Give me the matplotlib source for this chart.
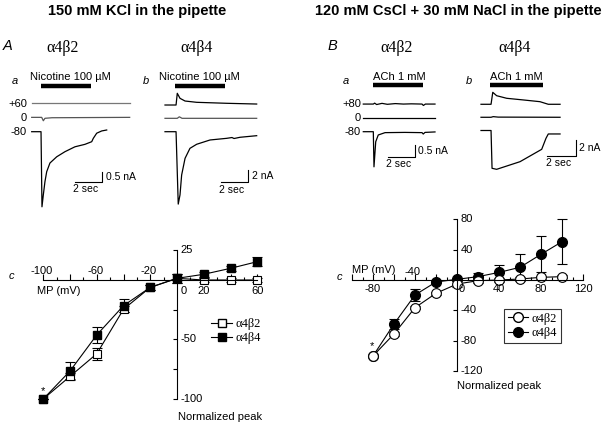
import numpy as np
import matplotlib.pyplot as plt
from matplotlib.lines import Line2D

plt.rcParams['font.family'] = ['Liberation Sans', 'DejaVu Sans']
SERIF = ['Liberation Serif', 'DejaVu Serif']

W, H = 605, 423

# ---------------- current traces (t in s, I in nA, relative to holding level) ----------------
# A-a  a4b2, nicotine 100 uM (150 mM KCl)
Aa_t60 = [0, 7.25]
Aa_i60 = [0, 0]
Aa_t0 = [0, 0.74, 0.86, 0.98, 1.5, 7.25]
Aa_i0 = [0, 0, -0.18, -0.05, -0.02, 0]
Aa_t80 = [0, 0.69, 0.76, 0.86, 0.98, 1.11, 1.35, 1.85, 2.46, 3.20, 3.94, 4.44, 4.56, 4.81, 5.18, 5.55]
Aa_i80 = [0, 0, -3.98, -3.35, -2.65, -2.12, -1.66, -1.33, -1.06, -0.80, -0.67, -0.53, -0.35, -0.08, 0.04, 0.09]

# A-b  a4b4, nicotine 100 uM
Ab_t60 = [0, 0.81, 0.90, 1.10, 1.47, 2.32, 4.52, 6.72]
Ab_i60 = [0, 0, 1.91, 1.09, 0.65, 0.44, 0.28, 0.16]
Ab_t0 = [0, 0.90, 1.05, 1.25, 6.72]
Ab_i0 = [0, 0, 0.25, 0, 0]
Ab_t80 = [0, 0.81, 0.97, 1.10, 1.22, 1.47, 1.83, 2.32, 3.30, 4.52, 4.91, 5.06, 5.50, 6.72]
Ab_i80 = [0, 0, -11.8, -10.3, -7.06, -4.34, -2.71, -2.05, -1.35, -1.08, -0.95, -1.11, -0.91, -0.65]

# B-a  a4b2, ACh 1 mM (120 mM CsCl + 30 mM NaCl)
Ba_t80p = [0, 0.75, 0.85, 1.0, 1.4, 1.8, 2.4, 3.0, 3.6, 4.4, 4.5, 4.65, 5.37]
Ba_i80p = [0, 0, 0.04, -0.02, 0.03, -0.01, 0.02, 0, 0.01, 0, -0.06, 0, 0]
Ba_t0 = [0, 5.37]
Ba_i0 = [0, 0]
Ba_t80 = [0, 0.75, 0.80, 0.93, 1.12, 1.63, 3.12, 4.40, 4.49, 4.62, 5.37]
Ba_i80 = [0, 0, -1.5, -0.43, -0.14, -0.04, -0.03, -0.04, -0.10, -0.03, -0.01]

# B-b  a4b4, ACh 1 mM
Bb_t80p = [0, 0.70, 0.82, 1.09, 1.79, 2.95, 4.11, 4.46, 4.69, 5.51]
Bb_i80p = [0, 0, 1.52, 1.09, 0.76, 0.55, 0.33, 0.13, 0, 0]
Bb_t0 = [0, 0.70, 0.85, 1.2, 5.51]
Bb_i0 = [0, 0, 0.08, 0.02, 0]
Bb_t80 = [0, 0.70, 0.77, 1.09, 2.72, 4.23, 4.53, 4.69, 5.51]
Bb_i80 = [0, 0, -4.80, -4.93, -3.96, -2.39, -0.99, -0.44, -0.44]

# ---------------- normalized I-V data ----------------
A_mv = [-100, -80, -60, -40, -20, 0, 20, 40, 60]
A_b2 = [-100, -81, -62, -24.6, -6.2, 1.4, 0, 0, 0]
A_b2_err = [0, 2.5, 5, 2.5, 2, 4, 1.5, 1.5, 1.5]
A_b4 = [-100, -76.5, -46.2, -21.6, -6.2, 1.4, 4.8, 9.8, 15.4]
A_b4_err = [0, 7.8, 6.4, 5.3, 2, 4, 2.2, 2, 3.6]

B_mv = [-80, -60, -40, -20, 0, 20, 40, 60, 80, 100]
B_b2 = [-100, -71, -36.4, -17.5, -5.3, -0.9, 0, 1.3, 3.5, 4.4]
B_b2_err = [0, 3, 2, 2, 4.4, 2.5, 2, 2, 2, 2]
B_b4 = [-100, -57.9, -19.7, -2.6, 0.9, 4.4, 10, 16.7, 33.8, 50.4]
B_b4_err = [0, 6.6, 7.5, 1.5, 1.5, 5.3, 10, 17, 23.5, 30]

fig = plt.figure(figsize=(W / 100, H / 100), dpi=100)


def fig_rect(l, t, r, b):
    return [l / W, 1 - b / H, (r - l) / W, (b - t) / H]


def ftext(x, y, s, **kw):
    kw.setdefault('ha', 'center')
    kw.setdefault('va', 'center')
    fig.text(x / W, 1 - y / H, s, **kw)


def trace_panel(box, origin, spp, npp, traces, offsets, colors, drug, bar):
    l, t, r, b = box
    x0, y0 = origin
    ax = fig.add_axes(fig_rect(l, t, r, b))
    ax.set_xlim((l - x0) * spp, (r - x0) * spp)
    ax.set_ylim((y0 - b) * npp, (y0 - t) * npp)
    ax.axis('off')
    for (tt, ii), off, c in zip(traces, offsets, colors):
        ax.plot(tt, np.asarray(ii) + off, color=c, lw=0.9)
    on, stop, lev = drug
    ax.plot([on, stop], [lev, lev], color='k', lw=3.2, solid_capstyle='butt')
    ts, ib, size, lab = bar
    ax.plot([ts - 2, ts, ts], [ib, ib, ib + size], color='k', lw=0.8)
    ax.annotate(lab, (ts, ib + size / 2), xytext=(2.5, 0), textcoords='offset points',
                ha='left', va='center', fontsize=7.5)
    ax.annotate('2 sec', (ts - 1.2, ib), xytext=(0, -5.5), textcoords='offset points',
                ha='center', va='center', fontsize=7.5)
    return ax


def iv_panel(origin, sx, sy, xlim, ylim):
    x0, y0 = origin
    l, r = x0 + xlim[0] * sx, x0 + xlim[1] * sx
    t, b = y0 - ylim[1] * sy, y0 - ylim[0] * sy
    ax = fig.add_axes(fig_rect(l, t, r, b))
    ax.set_xlim(xlim)
    ax.set_ylim(ylim)
    ax.patch.set_visible(False)
    for s in ['top', 'right']:
        ax.spines[s].set_visible(False)
    ax.spines['left'].set_position(('data', 0))
    ax.spines['bottom'].set_position(('data', 0))
    for s in ['left', 'bottom']:
        ax.spines[s].set_linewidth(0.8)
    ax.tick_params(axis='x', which='both', direction='in', labelbottom=False, width=0.8)
    ax.tick_params(axis='x', which='major', length=4)
    ax.tick_params(axis='x', which='minor', length=2)
    ax.tick_params(axis='y', which='both', direction='out', length=3, width=0.8, labelleft=False)
    return ax


def tlabel(ax, s, xy, dx, dy, ha='center'):
    ax.annotate(s, xy, xytext=(dx, dy), textcoords='offset points', ha=ha, va='center', fontsize=8)


# ---------------- titles and panel labels ----------------
ftext(137, 11, '150 mM KCl in the pipette', fontsize=10.5, weight='bold')
ftext(458, 11, '120 mM CsCl + 30 mM NaCl in the pipette', fontsize=10.5, weight='bold')
ftext(3, 46, 'A', ha='left', fontsize=10.5, style='italic')
ftext(328, 46, 'B', ha='left', fontsize=10.5, style='italic')
for x, s in [(63, 'α4β2'), (197, 'α4β4'), (397, 'α4β2'), (515, 'α4β4')]:
    ftext(x, 48, s, fontsize=11.5, family=SERIF)
for x, s in [(14.5, 'a'), (145.5, 'b'), (345.5, 'a'), (468.5, 'b')]:
    ftext(x, 81, s, fontsize=8, style='italic')
for x, s in [(70, 'Nicotine 100 µM'), (199, 'Nicotine 100 µM'), (399, 'ACh 1 mM'), (516, 'ACh 1 mM')]:
    ftext(x, 77, s, fontsize=8)
for y, s in zip([104, 118, 132], ['+60', '0', '-80']):
    ftext(27, y, s, ha='right', fontsize=8)
for y, s in zip([104, 118, 132], ['+80', '0', '-80']):
    ftext(361, y, s, ha='right', fontsize=8)

# ---------------- trace panels ----------------
trace_panel((0, 60, 150, 215), (31.7, 131.7), 0.074, 0.053,
            [(Aa_t60, Aa_i60), (Aa_t0, Aa_i0), (Aa_t80, Aa_i80)], [1.5, 0.76, 0],
            ['#777777', '#555555', 'k'], (0.69, 4.39, 2.42), (5.22, -2.65, 0.5, '0.5 nA'))
trace_panel((150, 60, 300, 215), (165, 131.7), 0.0733, 0.163,
            [(Ab_t60, Ab_i60), (Ab_t0, Ab_i0), (Ab_t80, Ab_i80)], [4.35, 2.18, 0],
            ['k', '#555555', 'k'], (0.73, 4.40, 7.45), (6.10, -8.25, 2, '2 nA'))
trace_panel((362, 60, 450, 215), (363.3, 131.7), 0.0749, 0.0427,
            [(Ba_t80p, Ba_i80p), (Ba_t0, Ba_i0), (Ba_t80, Ba_i80)], [1.18, 0.6, 0],
            ['k', 'k', 'k'], (0.73, 4.48, 1.99), (3.87, -1.07, 0.5, '0.5 nA'))
trace_panel((470, 60, 605, 215), (481, 130.5), 0.0697, 0.127,
            [(Bb_t80p, Bb_i80p), (Bb_t0, Bb_i0), (Bb_t80, Bb_i80)], [3.33, 1.68, 0],
            ['k', 'k', 'k'], (0.63, 4.32, 5.78), (6.62, -3.2, 2, '2 nA'))

# ---------------- I-V plot A ----------------
axA = iv_panel((177, 280), 1.3375, 1.19, (-105, 62), (-103, 27))
axA.spines['bottom'].set_bounds(-100, 60)
axA.spines['left'].set_bounds(-100, 25)
axA.set_xticks(range(-100, 61, 20))
axA.set_xticks(range(-100, 61, 10), minor=True)
axA.set_yticks(range(-100, 26, 25))
ekw = dict(color='k', lw=0.8, capsize=3.5, elinewidth=0.8, capthick=0.8, clip_on=False)
axA.errorbar(A_mv, A_b2, yerr=A_b2_err, fmt='-s', ms=5.5, mfc='white', mec='k', mew=0.8, **ekw)
axA.errorbar(A_mv, A_b4, yerr=A_b4_err, fmt='-s', ms=6, mfc='k', mec='k', **ekw)
for v in [-100, -60, -20]:
    tlabel(axA, str(v), (v, 0), -1, 6.5)
tlabel(axA, '0', (0, 0), 5, -8)
for v in [20, 60]:
    tlabel(axA, str(v), (v, 0), 0, -8)
for v in [25, -50, -100]:
    tlabel(axA, str(v), (0, v), 2.5, 0, ha='left')
tlabel(axA, '*', (-100, -100), 0, 6)
ftext(37, 291, 'MP (mV)', ha='left', fontsize=8)
ftext(11, 276, 'c', fontsize=8, style='italic')
ftext(178, 417, 'Normalized peak', ha='left', fontsize=8)
hA = [Line2D([], [], color='k', lw=0.8, marker='s', ms=5.5, mfc='white', mec='k'),
      Line2D([], [], color='k', lw=0.8, marker='s', ms=6, mfc='k', mec='k')]
fig.legend(hA, ['α4β2', 'α4β4'], loc='upper left', bbox_to_anchor=(211 / W, 1 - 318 / H),
           frameon=False, prop={'family': SERIF, 'size': 9}, handlelength=1.7,
           handletextpad=0.3, labelspacing=0.2, borderpad=0, borderaxespad=0)

# ---------------- I-V plot B ----------------
axB = iv_panel((457, 280), 1.05, 0.76, (-104, 124), (-125, 85))
axB.spines['bottom'].set_bounds(-100, 120)
axB.spines['left'].set_bounds(-120, 80)
axB.set_xticks(range(-100, 121, 20))
axB.set_xticks(range(-100, 121, 10), minor=True)
axB.set_yticks(range(-120, 81, 40))
axB.errorbar(B_mv, B_b4, yerr=B_b4_err, fmt='-o', ms=7, mfc='k', mec='k', **ekw)
axB.errorbar(B_mv, B_b2, yerr=B_b2_err, fmt='-o', ms=7, mfc='white', mec='k', mew=0.8, **ekw)
for v in [-80, 40, 80, 120]:
    tlabel(axB, str(v), (v, 0), 0, -6.5)
tlabel(axB, '0', (0, 0), 3.5, -6.5)
tlabel(axB, '-40', (-40, 0), -1.5, 5.5)
for v in [80, 40, -40, -80, -120]:
    tlabel(axB, str(v), (0, v), 2.5, 0, ha='left')
tlabel(axB, '*', (-80, -100), -1, 7)
ftext(352, 270, 'MP (mV)', ha='left', fontsize=8)
ftext(339, 277, 'c', fontsize=8, style='italic')
ftext(457, 386, 'Normalized peak', ha='left', fontsize=8)
hB = [Line2D([], [], color='k', lw=0.8, marker='o', ms=7, mfc='white', mec='k'),
      Line2D([], [], color='k', lw=0.8, marker='o', ms=7, mfc='k', mec='k')]
legB = fig.legend(hB, ['α4β2', 'α4β4'], loc='upper left', bbox_to_anchor=(504 / W, 1 - 309 / H),
                  frameon=True, fancybox=False, prop={'family': SERIF, 'size': 9}, handlelength=1.6,
                  handletextpad=0.3, labelspacing=0.2, borderpad=0.3, borderaxespad=0)
legB.get_frame().set_edgecolor('k')
legB.get_frame().set_linewidth(0.8)

fig.savefig('out.png', dpi=100)
